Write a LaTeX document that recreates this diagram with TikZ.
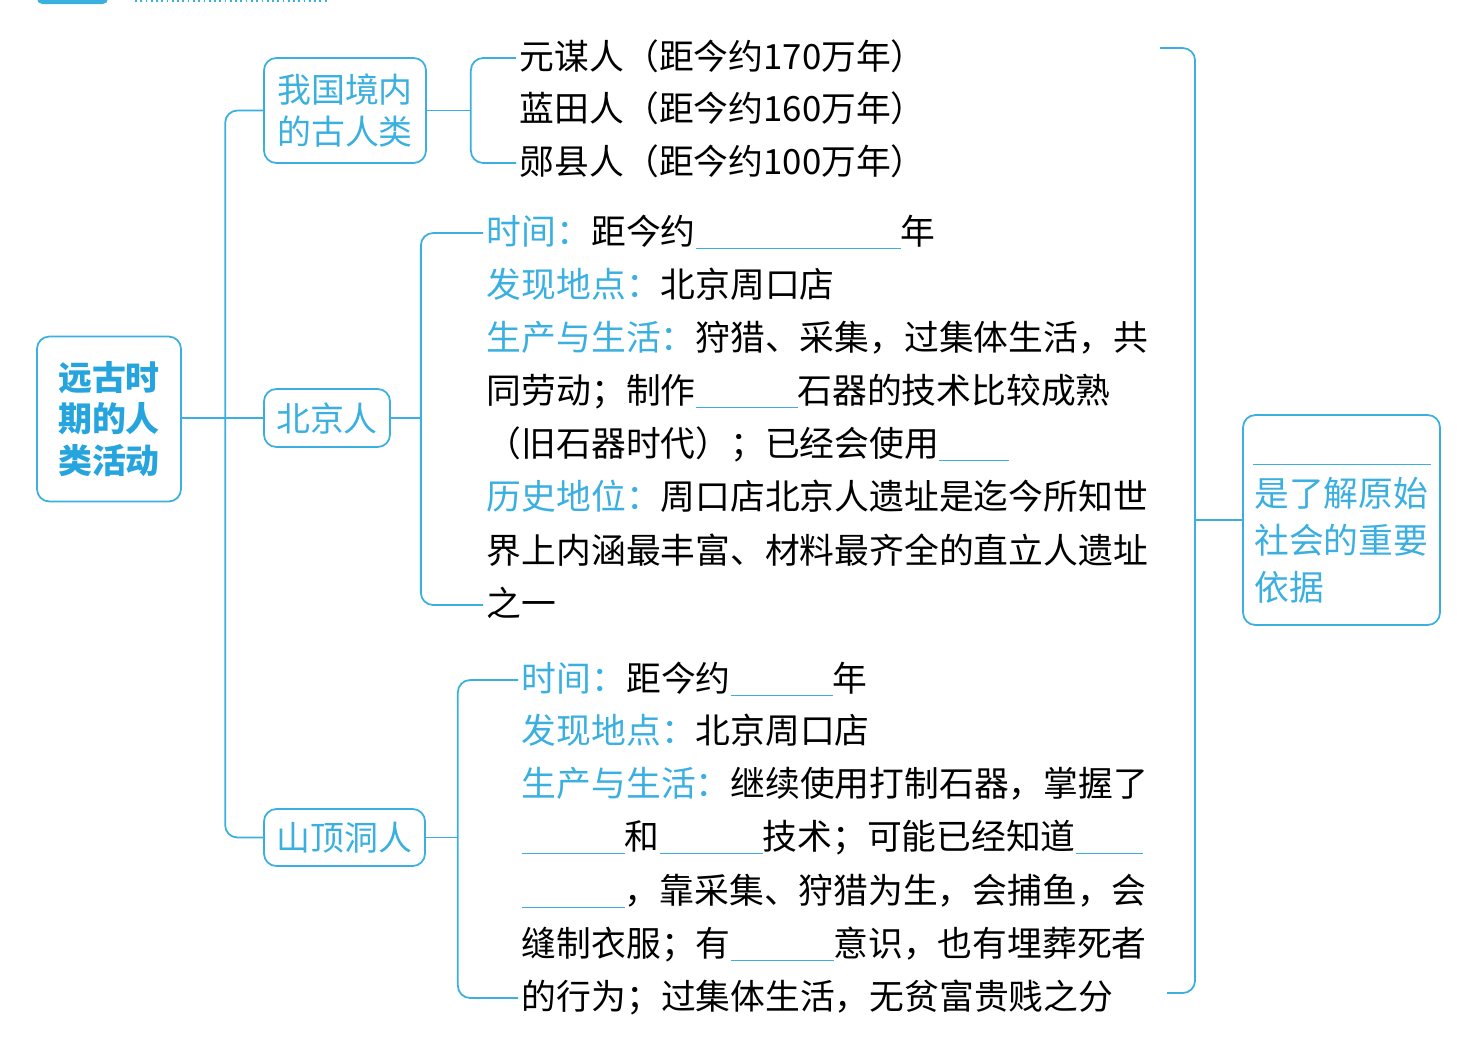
\documentclass[tikz,border=0pt]{standalone}
\usepackage{fontspec}
\setmainfont{Noto Sans CJK SC}
\usepackage{xcolor}
\definecolor{mapblue}{HTML}{3AAFE0}
\definecolor{rootblue}{HTML}{26A4DD}
\usepackage{tikz}
\usetikzlibrary{positioning, calc}
\newlength\pxu
\setlength\pxu{0.02cm}
\newcommand{\blank}[1]{\textcolor{mapblue}{\rule[-2.5pt]{#1\pxu}{0.7pt}}}
\newcommand{\lab}[1]{\textcolor{mapblue}{#1}}

\begin{document}
\begin{tikzpicture}[x=0.02cm, y=-0.02cm,
  link/.style={draw=mapblue, line width=1pt, rounded corners=7pt},
  topic/.style={draw=mapblue, line width=1pt, rounded corners=7pt, text=mapblue,
        align=center, inner sep=0pt, font=\fontsize{19.3}{23.5}\selectfont},
  row/.style={anchor=west, inner xsep=2pt, inner ysep=0pt,
        text height=1.36em, text depth=0.04em, font=\fontsize{19.8}{30}\selectfont}]

  \useasboundingbox (0,0) rectangle (1469,1046);

  % cut-off header at the top edge
  \fill[mapblue, rounded corners=3pt] (37,-12) rectangle (108,4);
  \draw[mapblue, dotted, line width=1pt] (135,1) -- (330,1);

  % topics
  \node[topic, minimum width=2.88cm, minimum height=3.3cm, text=rootblue,
        font=\fontsize{19.3}{23.5}\selectfont\bfseries] (root) at (109,419)
        {远古时\\期的人\\类活动};
  \node[topic, minimum width=3.24cm, minimum height=2.1cm] (gu) at (345,110.5)
        {我国境内\\的古人类};
  \node[topic, minimum width=2.52cm, minimum height=1.16cm] (bjr) at (327,418)
        {北京人};
  \node[topic, minimum width=3.22cm, minimum height=1.14cm] (sdd) at (344.5,837.5)
        {山顶洞人};
  \node[topic, minimum width=3.94cm, minimum height=4.2cm] (yiju) at (1341.5,520) {};

  % 我国境内的古人类
  \node[row] (gu1) at (516,58) {元谋人（距今约170万年）};
  \node[row] (gu2) at (516,110) {蓝田人（距今约160万年）};
  \node[row] (gu3) at (516,163) {郧县人（距今约100万年）};

  % 北京人
  \node[row] (bj1) at (483,233) {\lab{时间：}距今约\blank{205}年};
  \node[row] (bj2) at (483,286) {\lab{发现地点：}北京周口店};
  \node[row] (bj3) at (483,339) {\lab{生产与生活：}狩猎、采集，过集体生活，共};
  \node[row] (bj4) at (483,392) {同劳动；制作\blank{102}石器的技术比较成熟};
  \node[row] (bj5) at (483,445) {（旧石器时代）；已经会使用\blank{70}};
  \node[row] (bj6) at (483,498) {\lab{历史地位：}周口店北京人遗址是迄今所知世};
  \node[row] (bj7) at (483,552) {界上内涵最丰富、材料最齐全的直立人遗址};
  \node[row] (bj8) at (483,605) {之一};

  % 山顶洞人
  \node[row] (sd1) at (518,680) {\lab{时间：}距今约\blank{102}年};
  \node[row] (sd2) at (518,732) {\lab{发现地点：}北京周口店};
  \node[row] (sd3) at (518,785) {\lab{生产与生活：}继续使用打制石器，掌握了};
  \node[row] (sd4) at (518,838) {\blank{103}和\blank{103}技术；可能已经知道\blank{67}};
  \node[row] (sd5) at (518,892) {\blank{103}，靠采集、狩猎为生，会捕鱼，会};
  \node[row] (sd6) at (518,945) {缝制衣服；有\blank{103}意识，也有埋葬死者};
  \node[row] (sd7) at (518,998) {的行为；过集体生活，无贫富贵贱之分};

  % right box text
  \draw[mapblue, line width=0.7pt] ($(yiju.north west)+(11,50)$) -- ($(yiju.north east)+(-10,50)$);
  \node[anchor=north west, align=left, inner sep=0pt, text=mapblue,
        font=\fontsize{19.8}{26.6}\selectfont] (yijutext) at (1254,477)
        {是了解原始\\社会的重要\\依据};

  % connectors
  \draw[link] (gu.west) -- ++(-38,0) |- (sdd.west);
  \draw[link] (root.east |- bjr.west) -- (bjr.west);

  \coordinate (gujoin) at ($(gu.east)+(44,0)$);
  \draw[link] (gu.east) -- (gujoin);
  \draw[link] (gu1.west) -| (gujoin) |- (gu3.west);

  \coordinate (bjjoin) at ($(bjr.east)+(30,0)$);
  \draw[link] (bjr.east) -- (bjjoin);
  \draw[link] (bj1.west) -| (bjjoin) |- (bj8.west);

  \coordinate (sdjoin) at ($(sdd.east)+(32,0)$);
  \draw[link] (sdd.east) -- (sdjoin);
  \draw[link] (sd1.west) -| (sdjoin) |- (sd7.west);

  \coordinate (rtop) at (1160,48);
  \coordinate (rbot) at (1167,993);
  \draw[link] (rtop) -- ++(35,0) |- (rbot);
  \draw[link] (yiju.west) -- ++(-48,0);

\end{tikzpicture}
\end{document}
